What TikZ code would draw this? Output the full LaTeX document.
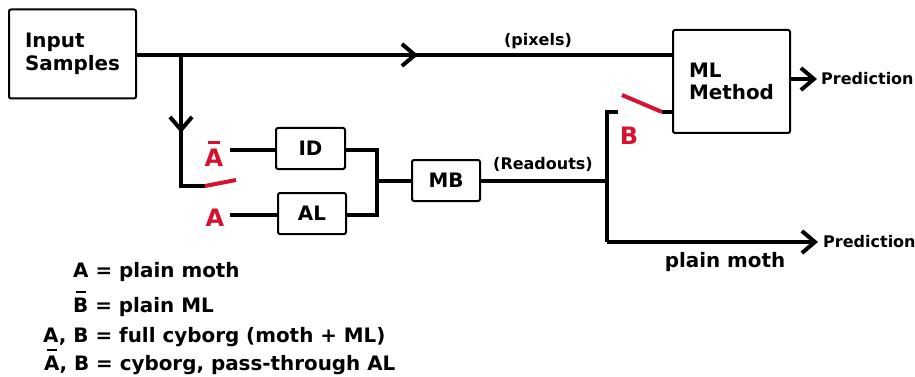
\documentclass[tikz,border=0pt]{standalone}
\usepackage{fontspec}
\setmainfont{DejaVu Sans}
\usetikzlibrary{arrows.meta}
\definecolor{swred}{RGB}{214,18,48}
\newcommand{\obar}[1]{\ooalign{#1\cr\hidewidth\raisebox{0.93em}{\rule{0.5em}{0.13em}}\hidewidth\cr}}
\begin{document}
\begin{tikzpicture}[x=1pt,y=-1pt,
  blk/.style={draw,line width=2pt,rounded corners=2pt,inner sep=0pt,align=left,
    font=\bfseries\fontsize{19.9}{22.5}\selectfont},
  wire/.style={line width=4pt},
  tipped/.style={line width=4pt,-{Straight Barb[length=13pt,width=22pt]}},
  small/.style={font=\bfseries\fontsize{16}{18}\selectfont,inner sep=0pt},
  big/.style={font=\bfseries\fontsize{19.9}{22}\selectfont,inner sep=0pt},
  redl/.style={font=\bfseries\fontsize{24}{26}\selectfont,text=swred,inner sep=0pt},
  sw/.style={line width=4pt,draw=swred}]
\useasboundingbox (0,0) rectangle (915,377);
% boxes
\node[blk,minimum width=127pt,minimum height=89pt] (in) at (72.5,54) {Input\\Samples};
\node[blk,minimum width=117pt,minimum height=103pt] (ml) at (731.5,81.5) {ML\\Method};
\node[blk,minimum width=69pt,minimum height=41pt] (id) at (310.5,148.5) {ID};
\node[blk,minimum width=68pt,minimum height=41pt] (al) at (312,213.5) {AL};
\node[blk,minimum width=68pt,minimum height=41pt] (mb) at (446,180.5) {MB};
% coordinates
\coordinate (j1) at (181,55);
\coordinate (m1) at (418,55);
\coordinate (v1) at (181,133);
\coordinate (c1) at (181,186);
\coordinate (s1a) at (205,186);
\coordinate (s1b) at (236,180);
\coordinate (ai) at (230,150);
\coordinate (bi) at (230,215);
\coordinate (br1) at (377,150);
\coordinate (br2) at (377,215);
\coordinate (brm) at (377,181);
\coordinate (rj) at (607,181);
\coordinate (rt) at (607,112);
\coordinate (rts) at (618,112);
\coordinate (s2a) at (622,95);
\coordinate (s2b) at (662,112);
\coordinate (rb) at (607,242);
\coordinate (pe) at (818,242);
\coordinate (mo) at (817,79);
% main line
\draw[wire] (in.east |- j1) -- (ml.west |- j1);
\draw[tipped] (in.east |- j1) -- (m1);
% branch
\draw[wire,line join=miter] (j1) -- (c1) -- (s1a);
\draw[tipped] (j1) -- (v1);
\draw[sw] (s1a) -- (s1b);
\draw[wire] (ai) -- (id.west |- ai);
\draw[wire] (bi) -- (al.west |- bi);
\draw[wire,line join=miter] (id.east |- br1) -- (br1) -- (br2) -- (al.east |- br2);
\draw[wire] (brm) -- (mb.west |- brm);
\draw[wire] (mb.east |- rj) -- (rj);
\draw[wire,line join=miter] (rts) -- (rt) -- (rb);
\draw[tipped] (rb) -- (pe);
\draw[sw] (s2a) -- (s2b);
\draw[wire] (s2b) -- (ml.west |- s2b);
\draw[tipped] (ml.east |- mo) -- (mo);
% labels
\node[small] (lpix) at (538,41) {(pixels)};
\node[small] (lread) at (543,164) {(Readouts)};
\node[small,anchor=west] (p1) at (821,79) {Prediction};
\node[small,anchor=west] (p2) at (823,242) {Prediction};
\node[big] (pm) at (725,262) {plain moth};
\node[redl,anchor=base] (la) at (214,166) {\obar{A}};
\node[redl,anchor=base] (lb) at (215,226) {A};
\node[redl,anchor=base] (lB) at (629,144) {B};
% legend
\node[big,anchor=base west] (g1) at (73,277) {A = plain moth};
\node[big,anchor=base west] (g2) at (73,312) {\obar{B} = plain ML};
\node[big,anchor=base west] (g3) at (43,342) {A, B = full cyborg (moth + ML)};
\node[big,anchor=base west] (g4) at (44,370) {\obar{A}, B = cyborg, pass-through AL};
\end{tikzpicture}
\end{document}
